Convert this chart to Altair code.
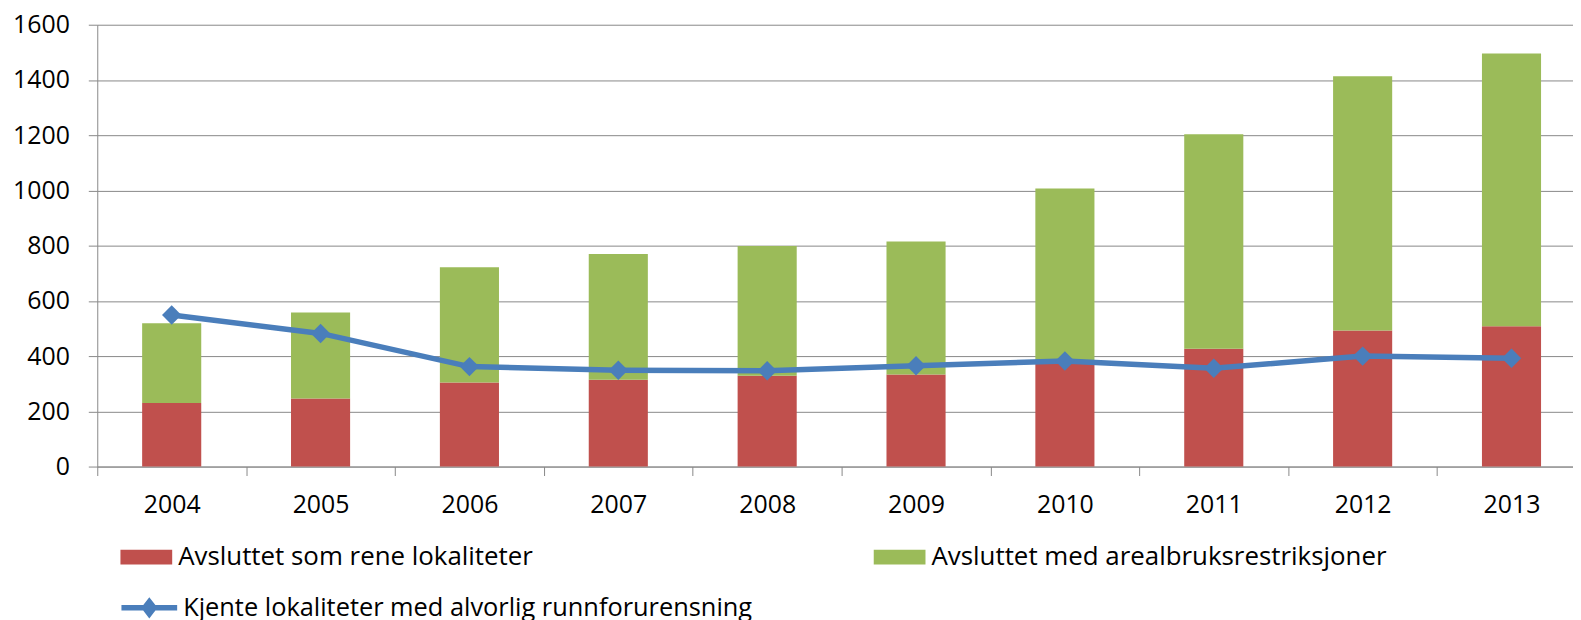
import altair as alt
import pandas as pd

years = ["2004", "2005", "2006", "2007", "2008", "2009", "2010", "2011", "2012", "2013"]
rene = [230, 246, 304, 314, 329, 333, 375, 427, 493, 508]
restriksjoner = [289, 312, 418, 456, 470, 482, 632, 776, 920, 988]
kjente = [549, 482, 362, 349, 347, 365, 382, 356, 400, 392]
bar_series = ["Avsluttet som rene lokaliteter", "Avsluttet med arealbruksrestriksjoner"]
line_series = ["Kjente lokaliteter med alvorlig runnforurensning"]
y_ticks = [0, 200, 400, 600, 800, 1000, 1200, 1400, 1600]

RED = "#C0504D"
GREEN = "#9BBB59"
BLUE = "#4A7EBB"
GREY = "#888888"
FONT = "Open Sans"

rows = []
for yr, r, g in zip(years, rene, restriksjoner):
    rows.append({"year": yr, "serie": bar_series[0], "verdi": r, "ord": 0})
    rows.append({"year": yr, "serie": bar_series[1], "verdi": g, "ord": 1})
bars_df = pd.DataFrame(rows)
line_df = pd.DataFrame({"year": years, "serie": line_series[0], "verdi": kjente})

x_enc = alt.X(
    "year:N",
    sort=years,
    title=None,
    scale=alt.Scale(range=[0, 1496], paddingInner=0, paddingOuter=0),
    axis=alt.Axis(
        labelAngle=0,
        tickBand="extent",
        grid=False,
        ticks=True,
        tickSize=9,
        labelPadding=17,
        labelFont=FONT,
        labelFontSize=25,
        labelColor="black",
        domainColor=GREY,
        tickColor=GREY,
    ),
)

y_axis = alt.Axis(
    values=y_ticks,
    format="d",
    title=None,
    grid=True,
    gridColor=GREY,
    gridWidth=1,
    tickSize=9,
    tickColor=GREY,
    domainColor=GREY,
    labelPadding=19,
    labelFont=FONT,
    labelFontSize=25,
    labelColor="black",
)
y_scale = alt.Scale(domain=[0, 1600], nice=False)

bars = alt.Chart(bars_df).mark_bar(opacity=1, width=alt.RelativeBandSize(band=0.397)).encode(
    x=x_enc,
    y=alt.Y("verdi:Q", stack="zero", scale=y_scale, axis=y_axis),
    color=alt.Color(
        "serie:N",
        scale=alt.Scale(domain=bar_series, range=[RED, GREEN]),
        legend=alt.Legend(
            title=None,
            orient="none",
            legendX=23.3,
            legendY=509,
            direction="horizontal",
            columns=2,
            columnPadding=342,
            symbolType="M-1,-0.288L1,-0.288L1,0.288L-1,0.288Z",
            symbolSize=2704,
            symbolStrokeWidth=0,
            symbolOpacity=1,
            labelFont=FONT,
            labelFontSize=26,
            labelColor="black",
            labelLimit=1000,
            labelOffset=6,
        ),
    ),
    order=alt.Order("ord:Q", sort="ascending"),
)

line = alt.Chart(line_df).mark_line(strokeWidth=5.5).encode(
    x=x_enc,
    y=alt.Y("verdi:Q", scale=y_scale, axis=y_axis),
    stroke=alt.Stroke(
        "serie:N",
        scale=alt.Scale(domain=line_series, range=[BLUE]),
        legend=alt.Legend(
            title=None,
            orient="none",
            legendX=21.3,
            legendY=555,
            symbolType="M-1,0L1,0M0,-0.22L0.17,0L0,0.22L-0.17,0Z",
            symbolSize=3136,
            symbolStrokeWidth=5.5,
            symbolFillColor=BLUE,
            symbolOpacity=1,
            labelFont=FONT,
            labelFontSize=25.5,
            labelColor="black",
            labelLimit=1000,
            labelOffset=3,
        ),
    ),
)

points = alt.Chart(line_df).mark_point(
    shape="M0,-1L1,0L0,1L-1,0Z",
    filled=True,
    size=380,
    color=BLUE,
    opacity=1,
).encode(
    x=x_enc,
    y=alt.Y("verdi:Q", scale=y_scale, axis=y_axis),
)

chart = (
    alt.layer(bars, line, points)
    .properties(
        width=1483,
        height=444,
        autosize=alt.AutoSizeParams(type="none"),
        padding={"left": 89.7, "top": 15.3, "right": 0, "bottom": 152.7},
        background="white",
    )
    .configure_view(strokeWidth=0)
)

chart.save("out.html", embed_options={"renderer": "svg", "actions": False})
